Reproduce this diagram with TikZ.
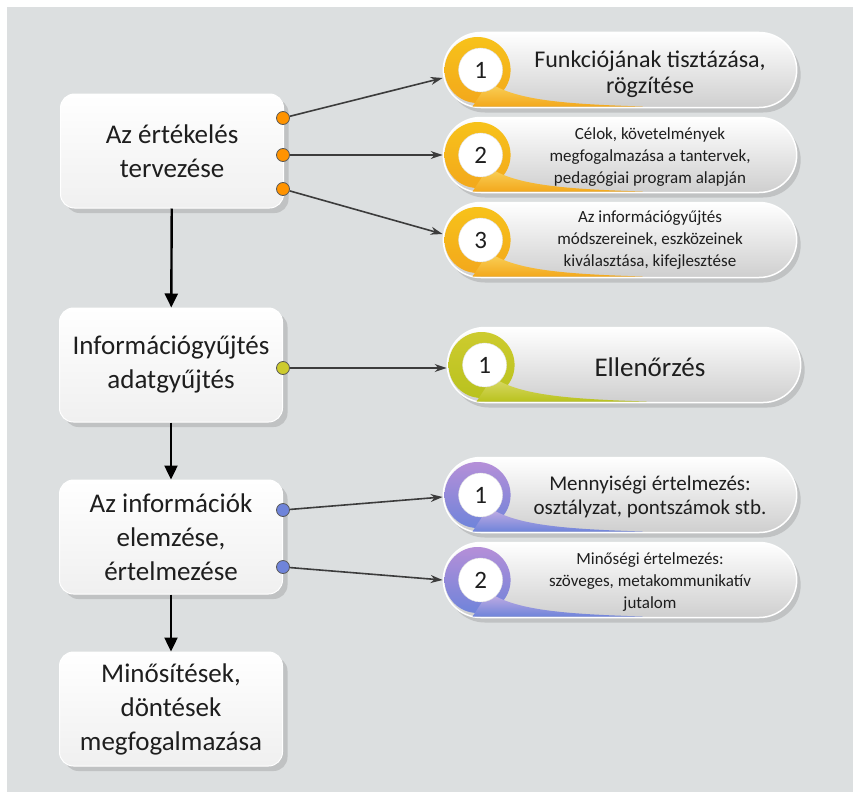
\documentclass[tikz,border=0pt]{standalone}
\usepackage{fontspec}
\setmainfont{Carlito}
\usepackage{tikz}
\usetikzlibrary{arrows.meta}
\usetikzlibrary{shapes.misc,shadows,calc}
\definecolor{bggray}{HTML}{DCDFE0}
\definecolor{inkgray}{HTML}{1E1E1E}
\definecolor{linegray}{HTML}{3C3C3C}
\definecolor{orA}{HTML}{F7C21A}
\definecolor{orB}{HTML}{F3A81C}
\definecolor{grA}{HTML}{CDCB2E}
\definecolor{grB}{HTML}{B9C21E}
\definecolor{puA}{HTML}{B58FD8}
\definecolor{puB}{HTML}{6F84DA}
% coloured ring + number on the left end of a pill
\newcommand{\ringmark}[4]{%
  \shade[top color=#2,bottom color=#3] ($(#1.west)+(35,0)$) circle (33pt);
  \shade[top color=#2!70,bottom color=#3]
    ($(#1.west)+(46,12)$) .. controls ($(#1.west)+(72,30)$) and ($(#1.west)+(120,34)$)
    .. ($(#1.west)+(200,36.5)$) -- ($(#1.west)+(30,36.5)$) -- cycle;
  \node[numdisc] (#1n) at ($(#1.west)+(38,0)$) {#4};
}

\begin{document}
\begin{tikzpicture}[x=1pt,y=-1pt,
  stage/.style={rectangle,rounded corners=14pt,minimum width=223pt,minimum height=114pt,
    top color=white,bottom color=gray!12,draw=white,line width=1pt,align=center,
    text=inkgray,font=\fontsize{27}{34}\selectfont,
    drop shadow={opacity=0.3,shadow xshift=5pt,shadow yshift=-5pt}},
  pill/.style={rounded rectangle,minimum width=360pt,minimum height=75pt,
    top color=white,bottom color=gray!38,draw=white,line width=1.5pt,
    drop shadow={opacity=0.3,shadow xshift=4pt,shadow yshift=-5pt}},
  numdisc/.style={circle,fill=white,draw=gray!25,minimum size=44pt,inner sep=0pt,
    text=inkgray,font=\fontsize{25}{25}\selectfont},
  bigtxt/.style={align=center,text=inkgray,font=\fontsize{24}{26}\selectfont},
  midtxt/.style={align=center,text=inkgray,font=\fontsize{21}{24}\selectfont},
  smalltxt/.style={align=center,text=inkgray,font=\fontsize{17}{22}\selectfont},
  dot/.style={circle,fill=#1,draw=black!65,line width=0.8pt,minimum size=13pt,inner sep=0pt},
  conn/.style={-{Stealth[length=12pt,width=8pt]},draw=linegray,line width=1.6pt},
  down/.style={-{Triangle[length=14pt,width=13pt]},draw=black,line width=2.4pt}]

  \useasboundingbox (0,0) rectangle (853,792);
  \fill[white] (0,0) rectangle (853,792);
  \fill[bggray] (7,7) rectangle (853,792);

  % left column
  \node[stage] (plan)    at (172,151) {Az értékelés\\tervezése};
  \node[stage] (collect) at (171,365) {Információgyűjtés\\adatgyűjtés};
  \node[stage] (analyse) at (171,537) {Az információk\\elemzése,\\értelmezése};
  \node[stage] (decide)  at (171,709) {Minősítések,\\döntések\\megfogalmazása};

  \draw[down] (plan)    -- (collect);
  \draw[down] (analyse) -- (decide);
  \draw[down] (collect) -- (analyse);

  % right column
  \node[pill] (f1) at (620,70)  {};
  \node[pill] (f2) at (620,155) {};
  \node[pill] (f3) at (620,240) {};
  \node[pill] (g1) at (624,365) {};
  \node[pill] (h1) at (620,495) {};
  \node[pill] (h2) at (620,580) {};

  \ringmark{f1}{orA}{orB}{1}
  \ringmark{f2}{orA}{orB}{2}
  \ringmark{f3}{orA}{orB}{3}
  \ringmark{g1}{grA}{grB}{1}
  \ringmark{h1}{puA}{puB}{1}
  \ringmark{h2}{puA}{puB}{2}

  \node[bigtxt]   (f1t) at (650,74)  {Funkciójának tisztázása,\\rögzítése};
  \node[smalltxt] (f2t) at (650,157) {Célok, követelmények\\megfogalmazása a tantervek,\\pedagógiai program alapján};
  \node[smalltxt] (f3t) at (650,240) {Az információgyűjtés\\módszereinek, eszközeinek\\kiválasztása, kifejlesztése};
  \node[align=center,text=inkgray,font=\fontsize{27}{27}\selectfont] (g1t) at (650,367) {Ellenőrzés};
  \node[midtxt]   (h1t) at (650,497) {Mennyiségi értelmezés:\\osztályzat, pontszámok stb.};
  \node[smalltxt] (h2t) at (650,582) {Minőségi értelmezés:\\szöveges, metakommunikatív\\jutalom};

  % connector dots
  \node[dot=orange!85!yellow] (a1) at (283,118) {};
  \node[dot=orange!85!yellow] (a2) at (283,155) {};
  \node[dot=orange!85!yellow] (a3) at (283,189) {};
  \node[dot=grA]              (b1) at (283,368) {};
  \node[dot=puB]              (c1) at (283,510) {};
  \node[dot=puB]              (c2) at (283,567) {};

  \draw[conn] (a1) -- ([yshift=-8pt]f1.west);
  \draw[conn] (a2) -- (f2.west);
  \draw[conn] (a3) -- ([yshift=6pt]f3.west);
  \draw[conn] (b1) -- ([yshift=-3pt]g1.west);
  \draw[conn] (c1) -- ([yshift=-2pt]h1.west);
  \draw[conn] (c2) -- (h2.west);
\end{tikzpicture}
\end{document}
